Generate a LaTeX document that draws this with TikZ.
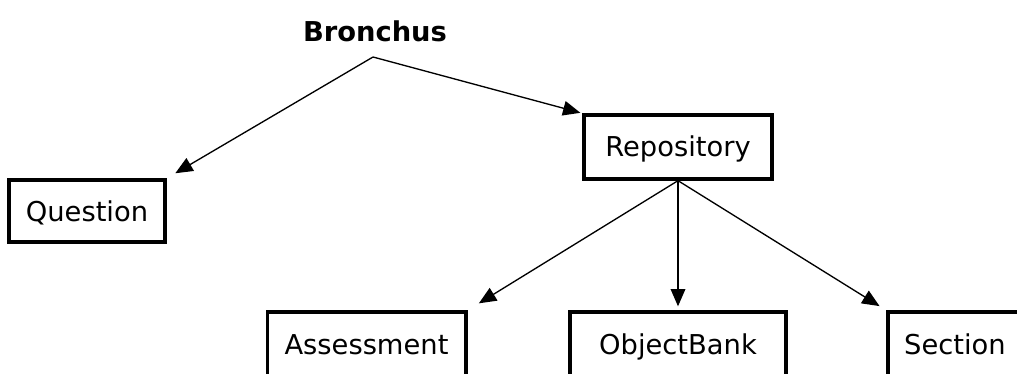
\documentclass[tikz,border=0pt]{standalone}
\usepackage{fontspec}
\setmainfont{DejaVu Sans}
\usetikzlibrary{arrows.meta}

\begin{document}
\begin{tikzpicture}
[x=0.75pt,y=-0.75pt,
 every node/.style={font=\fontsize{20.5}{24}\selectfont},
 box/.style={draw,line width=2.5pt,minimum height=48pt,inner sep=0pt,
   text height=15pt,text depth=0pt},
 link/.style={line width=1pt,-{Triangle[length=13pt,width=11pt]}}]
\clip (0,0) rectangle (1017,374);
\node[font=\fontsize{20.5}{24}\selectfont\bfseries] (bronchus) at (375,31) {Bronchus};
\coordinate (fork) at (373,57);
\node[box,minimum width=117pt,minimum height=46.5pt] (question) at (87,211) {Question};
\node[box,minimum width=141pt] (repository) at (678,147) {Repository};
\node[box,minimum width=149pt] (assessment) at (366.5,344) {Assessment};
\node[box,minimum width=162pt] (objectbank) at (678,344) {ObjectBank};
\node[box,minimum width=100.5pt] (section) at (955,344) {Section};
% fork below the title, then the tree
\foreach \from/\to/\gap in {fork/question.north east/7.5pt,fork/repository.north west/1.5pt,
  repository.south/assessment.north east/10pt,repository.south/objectbank.north/3pt,
  repository.south/section.north west/6pt}
\draw[link,shorten >=\gap] (\from) -- (\to);
\end{tikzpicture}
\end{document}
